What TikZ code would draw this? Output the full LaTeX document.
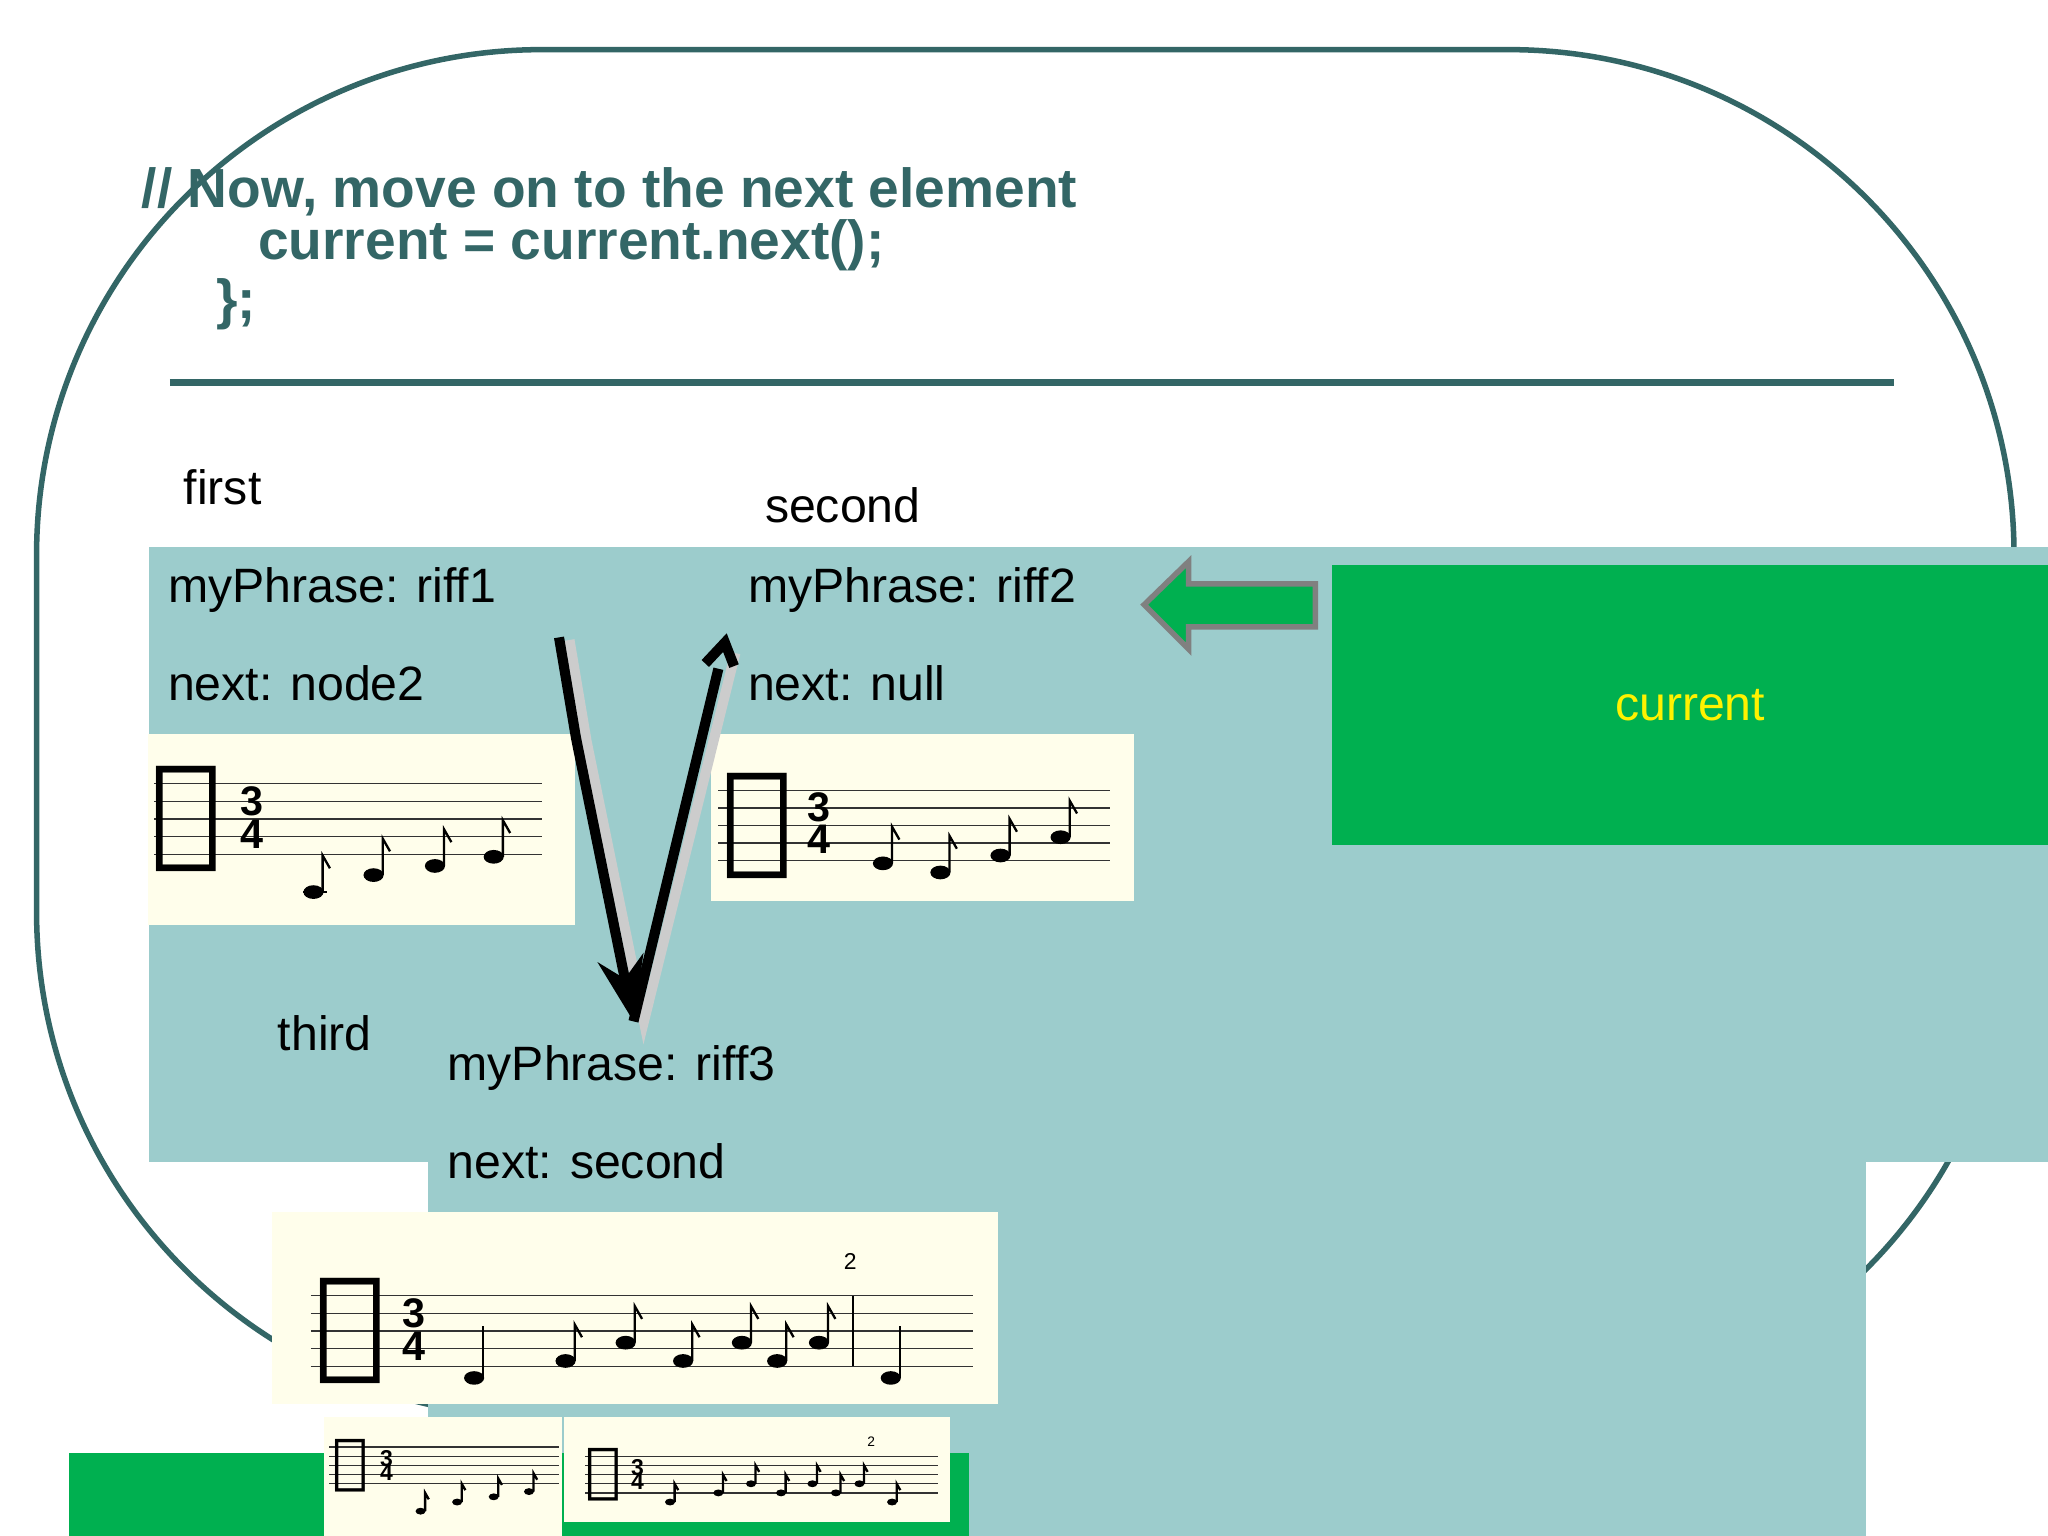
\documentclass[tikz,border=0pt]{standalone}
\usepackage{fontspec}
\usetikzlibrary{arrows.meta}
\setmainfont{Liberation Sans}
\newfontfamily\djvfont{DejaVu Sans}
\begin{document}
\begin{tikzpicture}[x=0.01cm,y=-0.01cm,
  lbl/.style={anchor=west,inner sep=0,font=\fontsize{10.5pt}{12pt}\selectfont},
  code/.style={anchor=west,inner sep=0,text=frame,font=\bfseries\fontsize{12pt}{14pt}\selectfont},
  cell/.style={fill=cellc,draw=none,minimum width=313,minimum height=134,anchor=north west},
  paper/.style={fill=yellow!8},
  ptr/.style={line width=2.2pt,black},
  shadow/.style={line width=2.2pt,gray!40}]
\definecolor{frame}{HTML}{336666}
\definecolor{cellc}{HTML}{9CCCCC}
\definecolor{grn}{HTML}{00B050}
\useasboundingbox (0,0) rectangle (1568,1176);
\fill[white] (0,0) rectangle (1568,1176);
\draw[frame,line width=1.2pt,rounded corners=110] (28,38) rectangle (1542,1085);
\node[code] (t1) at (108,147) {// Now, move on to the next element};
\node[code] (t2) at (197,188) {current = current.next();};
\node[code] (t3) at (165,233) {\};};
\draw[frame,line width=1.5pt] (130,293) -- (1450,293);
% staves
\newcommand{\stf}[6]{% x1 x2 ytop spacing clefx clefsize
  \foreach \i in {0,...,4}{\draw[black!80,line width=0.3pt] (#1,#3+\i*#4) -- (#2,#3+\i*#4);}
  \node[font=\djvfont\fontsize{#6}{#6}\selectfont,inner sep=0] at (#5,#3+2*#4) {\char"1D11E};}
\newcommand{\nt}[3]{% x y size
  \fill[black] (#1,#2) ellipse [x radius=#3*1.1,y radius=#3*0.75];
  \draw[line width=0.5pt] (#1+#3,#2) -- (#1+#3,#2-4*#3) -- (#1+#3+#3*0.8,#2-2.6*#3);}
\newcommand{\ts}[3]{\node[font=\bfseries\fontsize{#3}{#3}\selectfont,inner sep=0,align=center] at (#1,#2) {3\\[-2pt]4};}
% first
\node[lbl] (f) at (140,373) {first};
\node[cell] (b1) at (113,418) {};
\node[lbl] at (128,452) {myPhrase: riff1};
\node[lbl] at (128,523) {next: node2};
\fill[paper] (113,562) rectangle (440,708);
\stf{118}{415}{600}{13.5}{143}{26pt}
\ts{193}{626}{9pt}
\nt{240}{683}{7}\nt{286}{670}{7}\nt{333}{663}{7}\nt{378}{656}{7}
\draw (232,683) -- (250,683);
% second
\node[lbl] at (585,387) {second};
\node[cell] (b2) at (557,418) {};
\node[lbl] at (572,452) {myPhrase: riff2};
\node[lbl] at (572,523) {next: null};
\fill[paper] (544,562) rectangle (868,690);
\stf{550}{850}{605}{13.5}{580}{26pt}
\ts{627}{630}{9pt}
\nt{676}{661}{7}\nt{720}{668}{7}\nt{766}{655}{7}\nt{812}{641}{7}
% third
\node[lbl] at (212,791) {third};
\node[cell] (b3) at (327,784) {};
\node[lbl] at (342,818) {myPhrase: riff3};
\node[lbl] at (342,889) {next: second};
\fill[paper] (208,928) rectangle (764,1075);
\stf{238}{745}{992}{13.5}{268}{26pt}
\ts{317}{1018}{9pt}
\foreach \x/\y in {433/1042,479/1028,523/1042,568/1028,595/1042,627/1028}{\nt{\x}{\y}{7}}
\fill (363,1055) ellipse [x radius=7.7,y radius=5.2];\draw[line width=0.5pt] (370,1055)--(370,1015);
\draw[line width=0.5pt] (653,992) -- (653,1046);
\fill (682,1055) ellipse [x radius=7.7,y radius=5.2];\draw[line width=0.5pt] (689,1055)--(689,1015);
\node[font=\fontsize{5pt}{5pt}\selectfont] at (651,966) {2};
% pointers
\coordinate (p1) at (428,488);\coordinate (p2) at (441,565);\coordinate (p3) at (485,782);
\coordinate (q1) at (555,492);
\draw[shadow] (436,490) -- (449,567) -- (493,782) -- (563,500);
\draw[ptr,-{Stealth[length=14pt,width=10pt]}] (p1) -- (p2) -- (p3);
\draw[ptr] (p3) -- (550,512);
\draw[ptr] (540,508) -- (q1) -- (562,510);
% green arrow
\fill[grn,draw=gray,line width=1.2pt] (1007,447) -- (910,447) -- (910,430) -- (876,463) -- (910,497) -- (910,480) -- (1007,480) -- cycle;
\node[fill=grn,text=yellow,minimum width=156,minimum height=61,anchor=north west,inner sep=0,font=\fontsize{10.5pt}{12pt}\selectfont] (cur) at (1019,432) {current};
% collector
\node[fill=grn,text=yellow,minimum width=196,minimum height=64,anchor=north west,inner sep=0,font=\bfseries\fontsize{10.5pt}{12pt}\selectfont] (col) at (52,1112) {Collector:};
\fill[paper] (248,1085) rectangle (430,1176);
\fill[paper] (432,1085) rectangle (727,1165);
\stf{252}{428}{1108}{7}{268}{13pt}
\stf{448}{718}{1115}{7}{462}{13pt}
\ts{296}{1122}{5pt}\ts{488}{1129}{5pt}
\foreach \x/\y in {322/1157,350/1150,378/1146,405/1142}{\nt{\x}{\y}{3.5}}
\foreach \x/\y in {513/1150,550/1143,575/1136,598/1143,622/1136,640/1143,658/1136,683/1150}{\nt{\x}{\y}{3.5}}
\node[font=\fontsize{3pt}{3pt}\selectfont] at (667,1104) {2};
\end{tikzpicture}
\end{document}
